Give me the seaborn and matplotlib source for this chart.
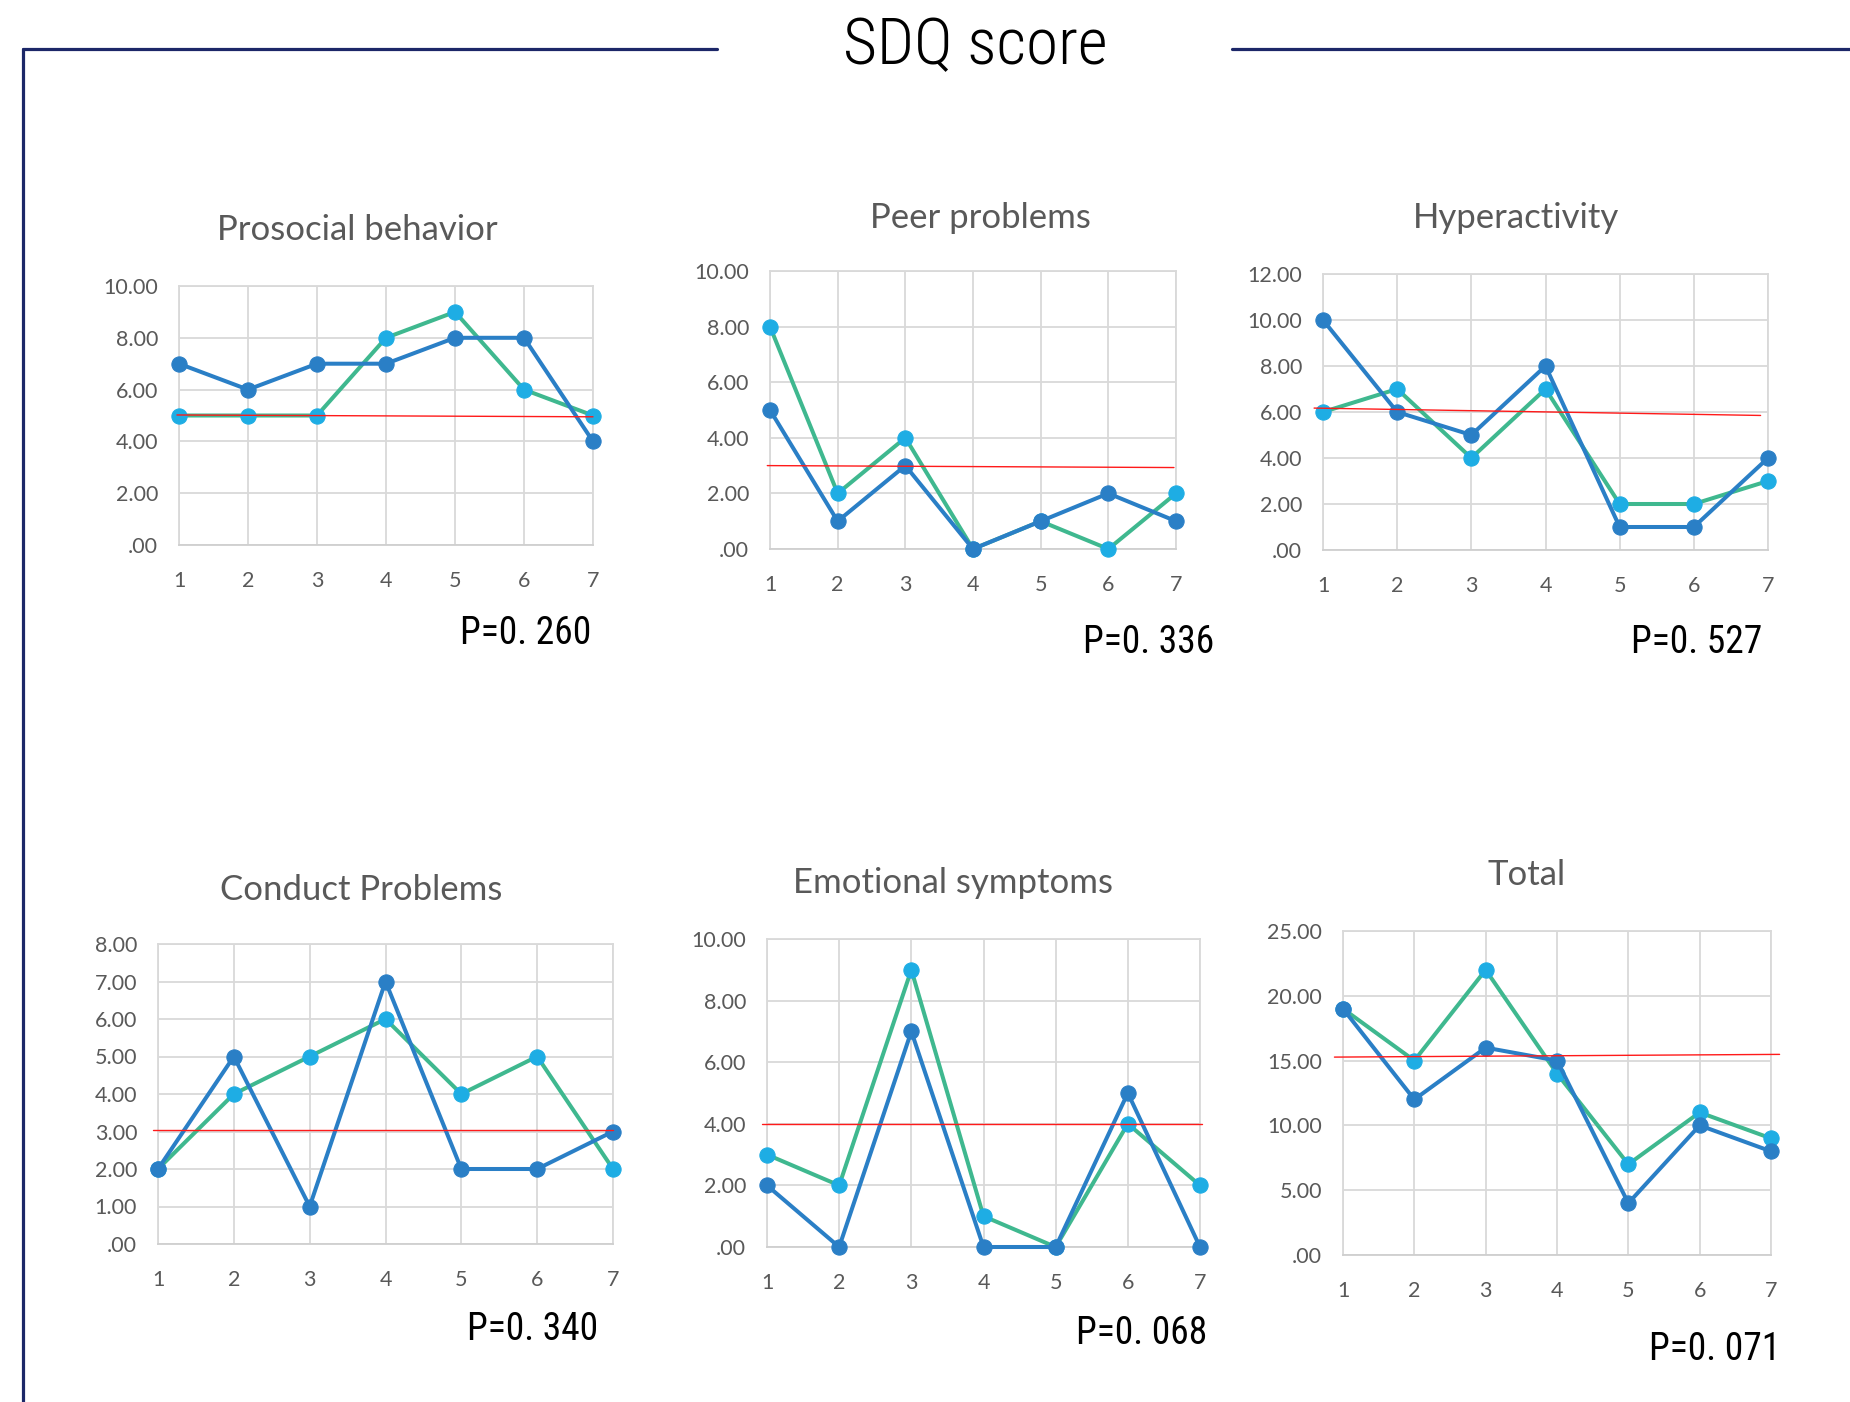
import numpy as np
import pandas as pd
import matplotlib
matplotlib.use("Agg")
import matplotlib.pyplot as plt
import seaborn as sns
from matplotlib import font_manager

sns.set_theme(style="white")
plt.rcParams['font.family'] = ['Lato', 'DejaVu Sans']

# ---------------- data ----------------
subjects = [1, 2, 3, 4, 5, 6, 7]

panel_titles = ["Prosocial behavior", "Peer problems", "Hyperactivity",
                "Conduct Problems", "Emotional symptoms", "Total"]
p_labels = ["P=0. 260", "P=0. 336", "P=0. 527",
            "P=0. 340", "P=0. 068", "P=0. 071"]

prosocial_a = [7, 6, 7, 7, 8, 8, 4]
prosocial_b = [5, 5, 5, 8, 9, 6, 5]
peer_a = [5, 1, 3, 0, 1, 2, 1]
peer_b = [8, 2, 4, 0, 1, 0, 2]
hyper_a = [10, 6, 5, 8, 1, 1, 4]
hyper_b = [6, 7, 4, 7, 2, 2, 3]
conduct_a = [2, 5, 1, 7, 2, 2, 3]
conduct_b = [2, 4, 5, 6, 4, 5, 2]
emotional_a = [2, 0, 7, 0, 0, 5, 0]
emotional_b = [3, 2, 9, 1, 0, 4, 2]
total_a = [19, 12, 16, 15, 4, 10, 8]
total_b = [19, 15, 22, 14, 7, 11, 9]

# reference (trend) line: value at its start and end
ref_start = [5.02, 3.00, 6.17, 3.04, 4.00, 15.27]
ref_end = [4.95, 2.93, 5.85, 3.04, 4.00, 15.48]

y_max = [10, 10, 12, 8, 10, 25]
y_step = [2, 2, 2, 1, 2, 5]

series_a = [prosocial_a, peer_a, hyper_a, conduct_a, emotional_a, total_a]
series_b = [prosocial_b, peer_b, hyper_b, conduct_b, emotional_b, total_b]

# ---------------- layout ----------------
W, H = 1850, 1402
# axes boxes in pixels: left, top, right, bottom
boxes = [
    (179, 286, 593, 545),
    (770, 271, 1176, 549),
    (1323, 274, 1768, 550),
    (158, 944, 613, 1244),
    (767, 939, 1200, 1247),
    (1343, 931, 1771, 1255),
]
title_pos = [(357, 230), (980, 218), (1516, 218), (361, 890), (953, 883), (1527, 875)]
p_pos = [(460, 634), (1083, 643), (1631, 643), (467, 1330), (1076, 1334), (1649, 1349)]
ref_x = [(0.97, 7.0), (0.96, 6.97), (0.88, 6.9), (0.93, 7.0), (0.93, 7.03), (0.88, 7.12)]


def pick_condensed():
    names = {f.name for f in font_manager.fontManager.ttflist}
    for cand in ["Liberation Sans Narrow", "Roboto Condensed", "Open Sans Condensed",
                 "Noto Sans Condensed", "DejaVu Sans Condensed"]:
        if cand in names:
            return cand
    return "Noto Sans CJK JP"


narrow = pick_condensed()

BLUE = "#2a7fc6"
GREEN = "#3fb88f"
CYAN = "#1eade4"
GRID = "#d9d9d9"
TEXT = "#595959"
NAVY = "#1c2768"

fig = plt.figure(figsize=(W / 100, H / 100), dpi=100)
fig.patch.set_facecolor("white")

# header frame
fig.add_artist(plt.Line2D([23 / W, 717 / W], [1 - 49 / H, 1 - 49 / H], color=NAVY, lw=2.3))
fig.add_artist(plt.Line2D([1232 / W, 1.0], [1 - 49 / H, 1 - 49 / H], color=NAVY, lw=2.3))
fig.add_artist(plt.Line2D([23 / W, 23 / W], [1 - 49 / H, 0.0], color=NAVY, lw=2.3))
fig.text(975 / W, 1 - 46 / H, "SDQ score", ha="center", va="center",
         fontsize=47, color="black", fontweight="light",
         family=[narrow, "DejaVu Sans"])


def fmt(v):
    s = f"{v:.2f}"
    return s[1:] if s.startswith("0.") else s


for i in range(6):
    l, t, r, b = boxes[i]
    ax = fig.add_axes([l / W, 1 - b / H, (r - l) / W, (b - t) / H])
    df = pd.DataFrame({"x": subjects, "a": series_a[i], "b": series_b[i]})
    sns.lineplot(data=df, x="x", y="b", ax=ax, color=GREEN, lw=2.9, marker="o",
                 markersize=11, mfc=CYAN, mec=CYAN, clip_on=False, zorder=3)
    sns.lineplot(data=df, x="x", y="a", ax=ax, color=BLUE, lw=2.9, marker="o",
                 markersize=11, mfc=BLUE, mec=BLUE, clip_on=False, zorder=4)
    ax.plot(list(ref_x[i]), [ref_start[i], ref_end[i]], color="#ff1a1a", lw=1.0,
            clip_on=False, zorder=5)

    ax.set_xlim(1, 7)
    ax.set_ylim(0, y_max[i])
    ax.set_xticks(subjects)
    ax.set_xticklabels([str(s) for s in subjects])
    yt = np.arange(0, y_max[i] + y_step[i] / 2, y_step[i])
    ax.set_yticks(yt)
    ax.set_yticklabels([fmt(v) for v in yt])
    ax.set_xlabel("")
    ax.set_ylabel("")
    ax.grid(True, color=GRID, lw=1.3)
    ax.set_axisbelow(True)
    for sp in ax.spines.values():
        sp.set_color(GRID)
        sp.set_linewidth(1.3)
    ax.spines["bottom"].set_color("#cfcfcf")
    ax.tick_params(axis="both", length=0, labelsize=15.5, colors=TEXT)
    ax.tick_params(axis="y", pad=15)
    ax.tick_params(axis="x", pad=19)

    tx, ty = title_pos[i]
    fig.text(tx / W, 1 - ty / H, panel_titles[i], ha="center", va="center",
             fontsize=25, color=TEXT)
    px, py = p_pos[i]
    fig.text(px / W, 1 - py / H, p_labels[i], ha="left", va="center",
             fontsize=27, color="black", family=[narrow, "DejaVu Sans"])

fig.savefig("out.png", dpi=100, facecolor="white")
